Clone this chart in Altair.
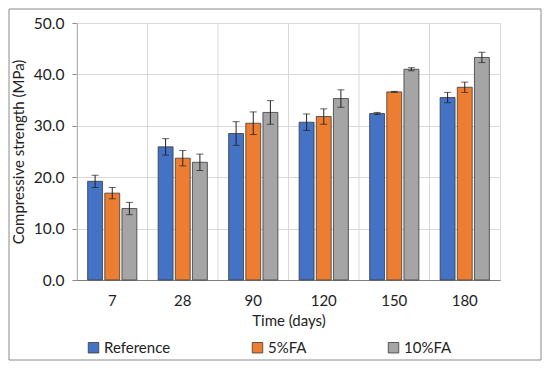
import altair as alt
import pandas as pd

days = ["7", "28", "90", "120", "150", "180"]
series = ["Reference", "5%FA", "10%FA"]
ref_vals = [19.2, 25.9, 28.5, 30.7, 32.4, 35.5]
fa5_vals = [16.9, 23.7, 30.5, 31.8, 36.6, 37.5]
fa10_vals = [13.9, 22.9, 32.6, 35.3, 41.0, 43.3]
ref_err = [1.2, 1.6, 2.3, 1.6, 0.2, 1.0]
fa5_err = [1.1, 1.5, 2.2, 1.5, 0.1, 1.0]
fa10_err = [1.2, 1.6, 2.3, 1.7, 0.3, 1.0]
colors = ["#4472C4", "#ED7D31", "#A5A5A5"]

rows = []
for s, vals, errs in zip(series, [ref_vals, fa5_vals, fa10_vals], [ref_err, fa5_err, fa10_err]):
    for d, v, e in zip(days, vals, errs):
        rows.append({"day": d, "series": s, "value": v, "lo": v - e, "hi": v + e})
df = pd.DataFrame(rows)
grid_df = pd.DataFrame({"day": days})

FONT = "Lato"
W, H = 423, 257

xscale = alt.Scale(domain=days, paddingInner=0, paddingOuter=0)
xoff = alt.XOffset("series:N", sort=series,
                   scale=alt.Scale(domain=series, paddingInner=0.13, paddingOuter=0.62))
yscale = alt.Scale(domain=[0, 50])

xaxis = alt.Axis(title="Time (days)", labelAngle=0, grid=False, ticks=False,
                 domainColor="#7f7f7f", domainWidth=1.2,
                 labelFontSize=15, titleFontSize=15, labelPadding=13,
                 titlePadding=5, labelColor="#222", titleColor="#222",
                 labelFont=FONT, titleFont=FONT, titleFontWeight="normal")

bars = alt.Chart(df).mark_bar(stroke="#3a3a3a", strokeWidth=0.8).encode(
    x=alt.X("day:N", sort=days, scale=xscale, axis=xaxis),
    xOffset=xoff,
    y=alt.Y("value:Q", scale=yscale,
            axis=alt.Axis(title="Compressive strength (MPa)", format=".1f",
                          values=[0, 10, 20, 30, 40, 50], gridColor="#d9d9d9",
                          tickColor="#8a8a8a", tickSize=5, domain=True,
                          domainColor="#8a8a8a", domainWidth=1,
                          labelFontSize=15.5, titleFontSize=15, labelPadding=8,
                          titlePadding=7, labelColor="#222", titleColor="#222",
                          labelFont=FONT, titleFont=FONT, titleFontWeight="normal")),
    color=alt.Color("series:N", sort=series,
                    scale=alt.Scale(domain=series, range=colors),
                    legend=alt.Legend(title=None, orient="none", direction="horizontal",
                                      legendX=9, legendY=H + 60, columnPadding=79,
                                      symbolType="square", symbolSize=110,
                                      symbolStrokeColor="#3a3a3a", symbolStrokeWidth=0.8,
                                      labelFontSize=15, labelFont=FONT, labelColor="#222",
                                      labelOffset=3))
)

grid = alt.Chart(grid_df).mark_rule(color="#d9d9d9", strokeWidth=1).encode(
    x=alt.X("day:N", sort=days, scale=xscale, bandPosition=0, axis=xaxis),
    y=alt.value(0), y2=alt.value(H)
)

err = alt.Chart(df).mark_rule(color="#222", strokeWidth=1).encode(
    x=alt.X("day:N", sort=days, scale=xscale, axis=xaxis),
    xOffset=xoff,
    y=alt.Y("lo:Q", scale=yscale),
    y2="hi:Q"
)
cap_lo = alt.Chart(df).mark_tick(color="#222", size=7, thickness=1).encode(
    x=alt.X("day:N", sort=days, scale=xscale, axis=xaxis),
    xOffset=xoff,
    y=alt.Y("lo:Q", scale=yscale)
)
cap_hi = alt.Chart(df).mark_tick(color="#222", size=7, thickness=1).encode(
    x=alt.X("day:N", sort=days, scale=xscale, axis=xaxis),
    xOffset=xoff,
    y=alt.Y("hi:Q", scale=yscale)
)

frame = alt.Chart(grid_df.head(1)).mark_rect(fill=None, stroke="#8a8a8a", strokeWidth=1).encode(
    x=alt.value(-68), x2=alt.value(W + 41), y=alt.value(-14), y2=alt.value(H + 80)
)

chart = alt.layer(bars, grid, err, cap_lo, cap_hi, frame).properties(
    width=W, height=H,
    autosize=alt.AutoSizeParams(type="none"),
    padding={"left": 69, "top": 15, "right": 42, "bottom": 81},
    background="white"
).configure_view(stroke="#d9d9d9", strokeWidth=1)

chart.save("out.html", embed_options={"renderer": "svg", "actions": False})
